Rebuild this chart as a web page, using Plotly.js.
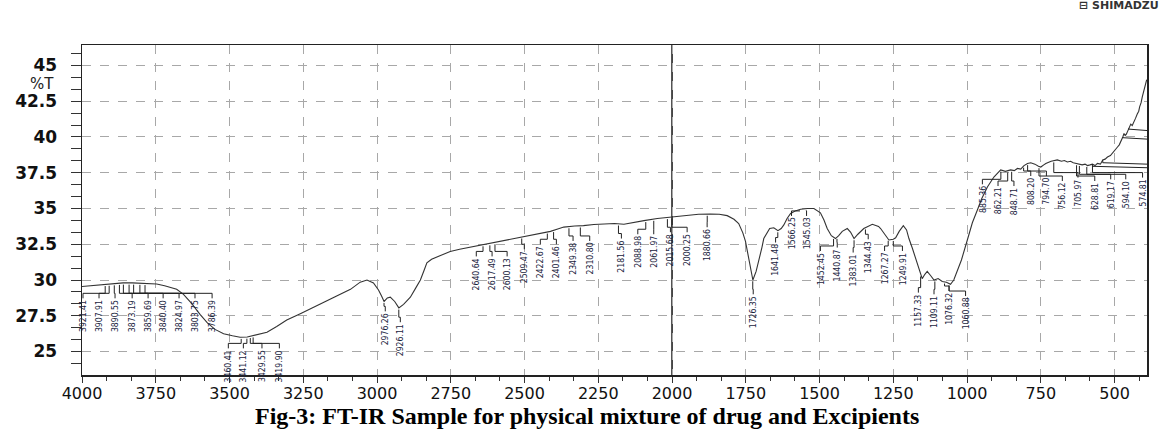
<!DOCTYPE html>
<html><head><meta charset="utf-8">
<script src="https://cdn.plot.ly/plotly-3.0.1.min.js"></script>
<style>html,body{margin:0;padding:0;background:#fff;}#chart{width:1169px;height:432px;}</style>
</head><body><div id="chart"></div>
<script>
// ---- Spectrum data (wavenumber cm-1, %T) ----
const wavenumber = [4000,3975,3950,3920,3890,3861,3830,3800,3770,3747,3720,3700,3679,3656,3630,3600,3575,3549,3520,3490,3464,3440,3410,3373,3340,3306,3260,3215,3170,3125,3090,3057,3034,3012,2995,2985,2976,2965,2955,2940,2926,2910,2887,2870,2853,2840,2831,2815,2797,2775,2752,2720,2684,2650,2616,2580,2548,2515,2480,2445,2412,2390,2367,2330,2300,2265,2232,2195,2163,2130,2095,2050,2005,1975,1949,1910,1870,1840,1813,1790,1774,1760,1751,1740,1734,1726,1715,1706,1695,1689,1669,1655,1641,1630,1621,1610,1598,1580,1564,1540,1519,1497,1485,1474,1460,1446,1435,1423,1406,1395,1383,1370,1350,1321,1300,1293,1280,1265,1250,1242,1230,1216,1205,1197,1185,1174,1160,1152,1143,1135,1123,1112,1098,1084,1070,1056,1045,1033,1019,999,982,965,950,931,909,886,870,852,840,829,818,807,795,784,770,758,750,740,733,715,694,680,670,660,649,640,630,620,610,600,592,583,575,566,558,548,540,532,524,514,505,497,490,484,478,472,468,464,460,452,445,440,435,429,423,418,415,410,406,402,400,396,394,391];
const transmittance = [29.55,29.6,29.65,29.7,29.75,29.8,29.8,29.78,29.75,29.72,29.6,29.5,29.35,29.0,28.4,27.6,27.0,26.55,26.25,26.1,26.0,26.02,26.15,26.35,26.75,27.2,27.65,28.1,28.5,28.95,29.35,29.85,30.0,29.8,29.3,28.9,28.5,28.75,28.8,28.5,28.05,28.3,28.8,29.4,30.0,30.7,31.2,31.45,31.6,31.8,32.0,32.15,32.3,32.45,32.55,32.7,32.85,33.0,33.15,33.3,33.4,33.55,33.7,33.78,33.8,33.88,33.9,33.95,33.9,34.0,34.15,34.3,34.4,34.5,34.55,34.6,34.62,34.6,34.5,34.25,33.95,33.3,32.7,31.5,30.8,30.0,30.6,31.3,32.3,32.9,33.6,33.65,33.45,33.6,33.85,34.3,34.65,34.85,34.95,35.0,35.0,34.7,34.2,33.6,33.1,32.9,33.1,33.4,33.6,33.35,32.9,33.2,33.6,33.9,33.75,33.6,33.2,32.8,32.85,32.95,33.4,33.8,33.5,32.9,32.2,31.5,30.5,30.1,30.4,30.6,30.3,30.0,30.1,29.9,29.85,29.7,30.0,30.6,31.4,32.8,34.0,34.9,35.7,36.5,37.2,37.7,37.6,37.7,37.65,37.8,37.75,38.0,38.15,38.2,38.1,37.95,37.9,38.05,38.15,38.3,38.4,38.3,38.35,38.25,38.3,38.2,38.15,38.1,38.05,38.1,38.0,38.05,38.1,38.0,38.15,38.1,38.4,38.45,38.6,38.7,38.9,39.1,39.3,39.45,39.7,40.0,40.25,40.1,40.2,40.6,40.9,40.8,41.1,41.3,41.6,41.8,42.1,42.4,42.8,43.1,43.2,43.5,43.75,44.0];

// Peak labels printed by the instrument
const peakLabels = ["3921.41","3907.91","3890.55","3873.19","3859.69","3840.40","3824.97","3803.75","3786.39",
  "3460.41","3441.12","3429.55","3419.90","2976.26","2926.11",
  "2640.64","2617.49","2600.13","2509.47","2422.67","2401.46","2349.38","2310.80","2181.56","2088.98","2061.97","2015.68","2000.25","1880.66",
  "1726.35","1641.48","1566.25","1545.03","1452.45","1440.87","1383.01","1344.43","1267.27","1249.91","1157.33","1109.11","1076.32","1060.88",
  "885.36","862.21","848.71","808.20","794.70","756.12","705.97","628.81","619.17","594.10","574.81"];

// Layout: where each label's text sits (x in cm-1, top edge in %T)
const labelX = [3996.6,3942.3,3888,3830,3776,3725,3671,3617,3559,
  3504,3453,3390,3331,2972,2921,
  2663.5,2610,2559,2500.7,2446.4,2392,2335.5,2279,2171.6,2116,2062,2005.4,1948.8,1881,
  1724.8,1649,1595,1544,1497,1440,1386,1335,1279.5,1219,1165,1112,1061,1005,
  948,895,841,784,731,677,624,567,513,462,405];
const labelTop = [28.67,28.67,28.67,28.67,28.67,28.67,28.67,28.67,28.67,
  25.17,25.17,25.17,25.17,27.76,27.0,
  31.6,31.6,31.6,32.1,32.45,32.45,32.68,32.68,32.85,33.15,33.15,33.29,33.29,33.64,
  28.95,32.57,34.43,34.43,31.98,32.22,31.87,32.8,31.98,31.98,29.07,28.95,29.18,28.83,
  36.64,36.52,36.52,37.22,37.22,36.87,37.11,36.87,36.99,36.99,37.11];

function curveAt(p){
  for(let i=0;i<wavenumber.length-1;i++){
    const a=wavenumber[i], b=wavenumber[i+1];
    if(p<=a && p>=b){const t=(a-p)/(a-b);return transmittance[i]+t*(transmittance[i+1]-transmittance[i]);}
  }
  return transmittance[transmittance.length-1];
}

const labelFont = {family:"DejaVu Sans Condensed, Liberation Sans Narrow, sans-serif", size:8.6, color:"#1a2440"};
const annotations = [];
const shapes = [];
peakLabels.forEach((lab,i)=>{
  const p = parseFloat(lab);
  annotations.push({x:labelX[i], y:labelTop[i], xref:"x", yref:"y", text:lab, textangle:-90,
    showarrow:false, xanchor:"center", yanchor:"top", font:labelFont, borderpad:0});
  const cy = curveAt(p);
  const kink = labelTop[i]+0.4;
  let d = `M ${labelX[i]},${labelTop[i]+0.05} L ${labelX[i]},${kink} L ${p},${kink}`;
  const end = cy-0.12;
  if(end>kink) d += ` L ${p},${end}`;
  shapes.push({type:"path", xref:"x", yref:"y", path:d, line:{color:"#222", width:1}});
});

// Leader lines to off-scale labels at the right edge
const edgePeaks = [472, 452, 540, 575];
const edgeLevels = [39.95, 40.55, 38.2, 37.95];
edgePeaks.forEach((p,i)=>{
  shapes.push({type:"path", xref:"x", yref:"y",
    path:`M ${p},${curveAt(p)} L ${p},${edgeLevels[i]} L 390,${edgeLevels[i]-0.1}`, line:{color:"#222", width:1}});
});

// Cursor line at 2000
shapes.push({type:"line", xref:"x", yref:"paper", x0:2000, x1:2000, y0:0, y1:1, line:{color:"#111", width:1.5}, layer:"below"});

annotations.push({xref:"paper", yref:"paper", x:-0.024, y:0.882, xanchor:"right", yanchor:"middle",
  text:"%T", showarrow:false, font:{family:"DejaVu Sans", size:15, color:"#222"}});
annotations.push({xref:"paper", yref:"paper", x:0.474, y:-0.124, xanchor:"center", yanchor:"middle",
  text:"<b>Fig-3: FT-IR Sample for physical mixture of drug and Excipients</b>", showarrow:false,
  font:{family:"Liberation Serif, Times New Roman, serif", size:24, color:"#000"}});
annotations.push({xref:"paper", yref:"paper", x:1.013, y:1.12, xanchor:"right", yanchor:"middle",
  text:"<b>⊟ SHIMADZU</b>", showarrow:false, font:{family:"DejaVu Sans", size:11, color:"#333"}});

const trace = {x:wavenumber, y:transmittance, type:"scatter", mode:"lines",
  line:{color:"#333", width:1.1}, hoverinfo:"skip"};

const layout = {
  width:1169, height:432,
  margin:{l:82, r:22, t:45, b:57},
  paper_bgcolor:"#fff", plot_bgcolor:"#fff",
  showlegend:false,
  xaxis:{range:[4000,390], autorange:false, tick0:0, dtick:250,
    showgrid:true, gridcolor:"#a8a8a8", griddash:"dash", gridwidth:1,
    showline:true, mirror:true, linecolor:"#222", linewidth:1.5,
    ticks:"outside", ticklen:6, tickcolor:"#333", zeroline:false, ticklabelstandoff:-3,
    minor:{dtick:250/3, tick0:0, ticklen:4, tickcolor:"#333", showgrid:false},
    tickfont:{family:"DejaVu Sans", size:16, color:"#111"}},
  yaxis:{range:[23.36,46.43], autorange:false, tick0:0, dtick:2.5,
    showgrid:true, gridcolor:"#a8a8a8", griddash:"dash", gridwidth:1,
    showline:true, mirror:true, linecolor:"#222", linewidth:1.5,
    ticks:"outside", ticklen:10, tickcolor:"#333", zeroline:false, ticklabelstandoff:10,
    minor:{dtick:2.5/3, tick0:0, ticklen:10, tickcolor:"#333", showgrid:false},
    tickfont:{family:"DejaVu Sans", size:17, color:"#111", weight:"bold"}},
  annotations:annotations,
  shapes:shapes
};
Plotly.newPlot("chart",[trace],layout,{displayModeBar:false, staticPlot:true});
</script></body></html>
